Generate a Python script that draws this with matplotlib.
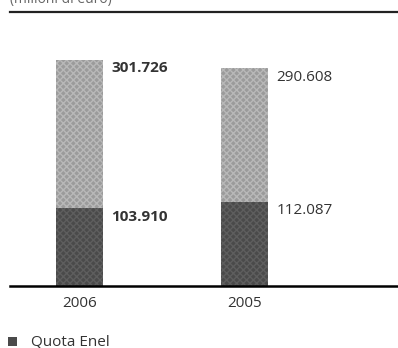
import numpy as np
import matplotlib
matplotlib.use("Agg")
import matplotlib.pyplot as plt
from matplotlib.patches import Rectangle

# Data (milioni di euro)
years = ["2006", "2005"]
totale = [301.726, 290.608]
quota_enel = [103.910, 112.087]
label_totale = ["301.726", "290.608"]
label_enel = ["103.910", "112.087"]
bold_labels = [True, False]

plt.rcParams["font.family"] = ["Open Sans", "DejaVu Sans"]

fig = plt.figure(figsize=(3.98, 3.48), dpi=100)
ax = fig.add_axes([10 / 398, 62 / 348, 388 / 398, 274 / 348])

x = np.arange(len(years))
width = 0.285
resto = np.array(totale) - np.array(quota_enel)

dark = "#4a4a4a"
light = "#9b9b9b"
ax.bar(x, quota_enel, width, color=dark, hatch="xxxxx", edgecolor="#5e5e5e", linewidth=0)
ax.bar(x, resto, width, bottom=quota_enel, color=light, hatch="xxxxx",
       edgecolor="#b8b8b8", linewidth=0)

for i in range(len(years)):
    fw = "bold" if bold_labels[i] else "normal"
    ax.annotate(label_totale[i], (x[i] + width / 2, totale[i]), xytext=(6, -1),
                textcoords="offset points", ha="left", va="top", fontsize=11,
                color="#333333", fontweight=fw)
    ax.annotate(label_enel[i], (x[i] + width / 2, quota_enel[i]), xytext=(6, -1),
                textcoords="offset points", ha="left", va="top", fontsize=11,
                color="#333333", fontweight=fw)

ax.set_xlim(-0.421, 1.930)
ax.set_ylim(0, 365.8)
ax.set_xticks(x)
ax.set_xticklabels(years, fontsize=11, color="#333333")
ax.tick_params(axis="x", length=0, pad=7)
ax.set_yticks([])
for s in ["left", "right"]:
    ax.spines[s].set_visible(False)
ax.spines["bottom"].set_linewidth(1.8)
ax.spines["top"].set_linewidth(1.6)
ax.spines["top"].set_color("#222222")

# unit caption, cut off at the top of the image
fig.text(10 / 398, 1.0, "(milioni di euro)", fontsize=10, color="#666666",
         ha="left", va="center")

# legend
fig.patches.append(Rectangle((8 / 398, 2 / 348), 9 / 398, 9 / 348,
                             transform=fig.transFigure, facecolor=dark, edgecolor="none"))
fig.text(31 / 398, (348 - 342) / 348, "Quota Enel", fontsize=11, color="#333333",
         ha="left", va="center")

fig.savefig("out.png", dpi=100)
